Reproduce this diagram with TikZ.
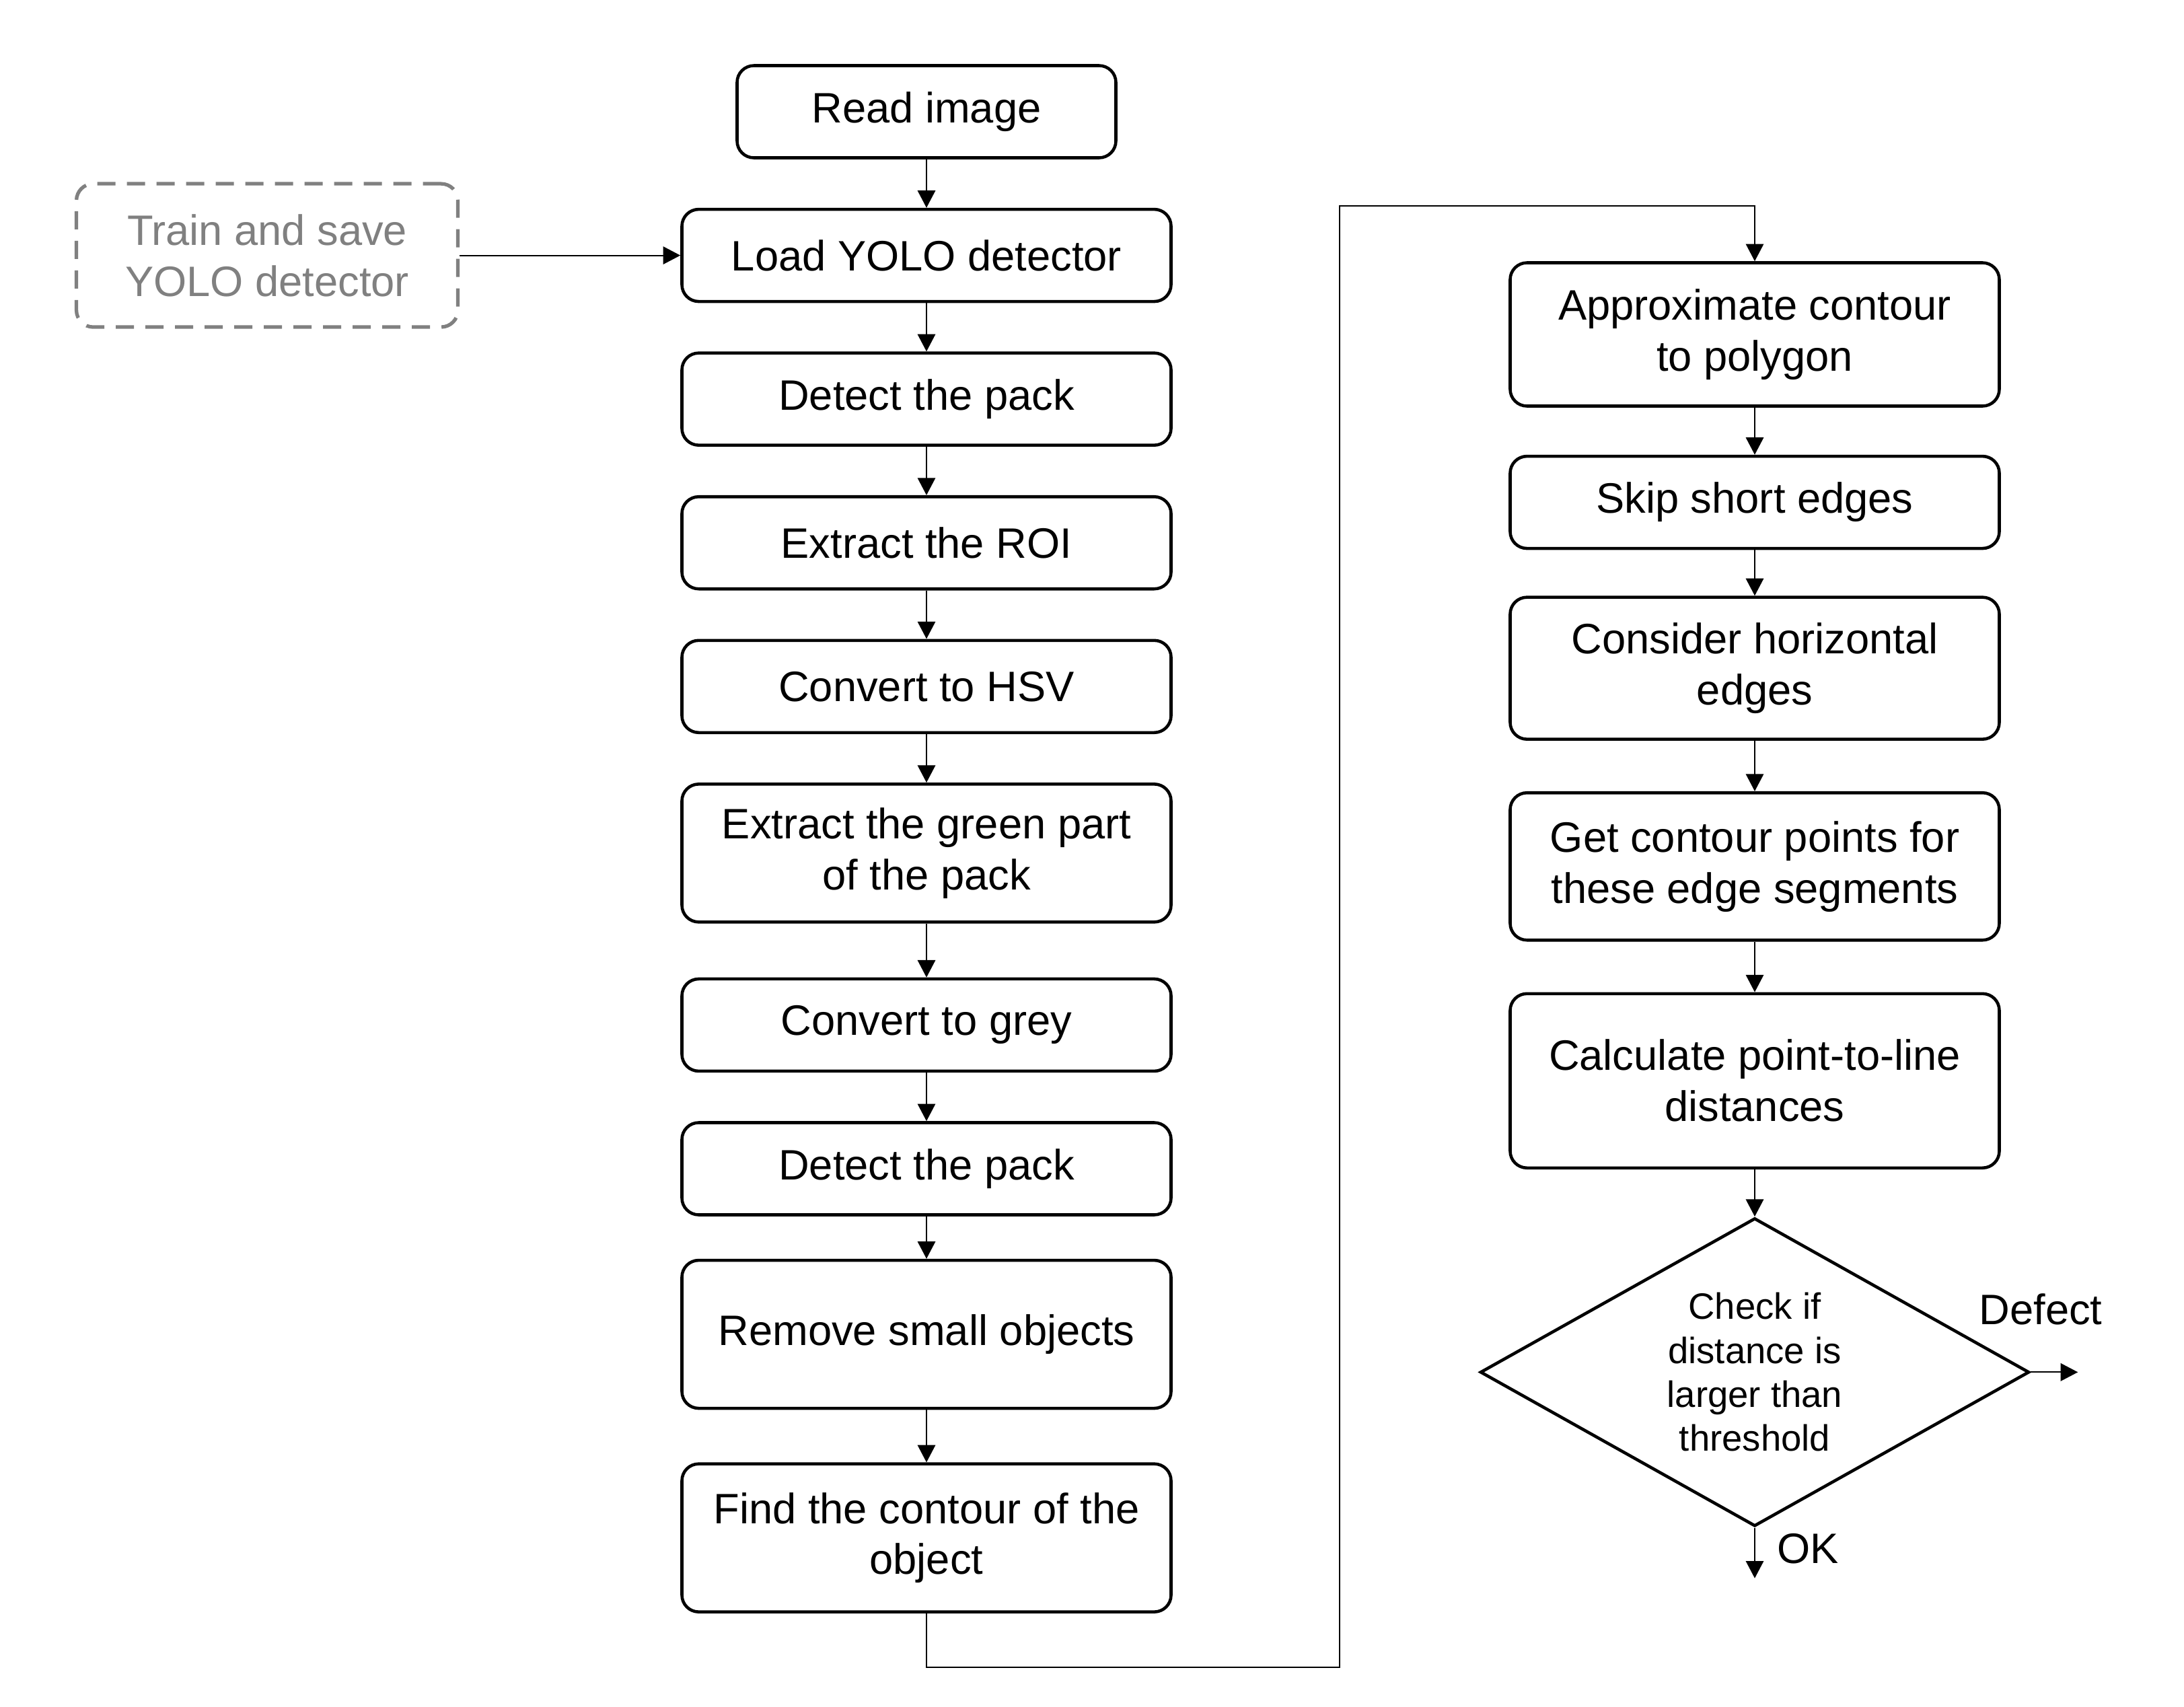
\documentclass[tikz,border=0pt]{standalone}
\usepackage{fontspec}
\setmainfont{Liberation Sans}
\usetikzlibrary{positioning,shapes.geometric,arrows.meta}
\definecolor{greyline}{RGB}{128,128,128}
\begin{document}
\begin{tikzpicture}
[node distance=0.72cm, font=\fontsize{18pt}{21.6pt}\selectfont, >={Triangle[length=7.3pt,width=7.5pt]}]
\tikzstyle{stepbox}=[rectangle, draw, line width=1.3pt, rounded corners=0.25cm, align=center, minimum width=7.27cm, minimum height=1.37cm, inner sep=2pt]
\tikzstyle{trainbox}=[stepbox, draw=greyline, text=greyline, line width=1.5pt, dash pattern=on 0.27cm off 0.17cm, minimum width=5.67cm, minimum height=2.13cm]
\tikzstyle{decision}=[diamond, draw, line width=1.3pt, align=center, inner sep=0pt, minimum width=8.16cm, minimum height=4.58cm, shape aspect=1.78, font=\fontsize{15.5pt}{18.6pt}\selectfont]
\tikzstyle{link}=[->, line width=0.6pt]
\fill[white] (0,0) rectangle (32.46,-25.36);
\useasboundingbox (0,0) rectangle (32.46,-25.36);

% left column
\node[stepbox]	(A1)	at (13.77,-1.66) [minimum width=5.63cm]	{Read image};
\node[stepbox]	(A2)	[below=of A1]		{Load YOLO detector};
\node[stepbox]	(A3)	[below=of A2]		{Detect the pack};
\node[stepbox]	(A4)	[below=of A3]		{Extract the ROI};
\node[stepbox]	(A5)	[below=of A4]		{Convert to HSV};
\node[stepbox]	(A6)	[below=of A5, minimum height=2.05cm]	{Extract the green part\\of the pack};
\node[stepbox]	(A7)	[below=0.8cm of A6]	{Convert to grey};
\node[stepbox]	(A8)	[below=of A7]		{Detect the pack};
\node[stepbox]	(A9)	[below=0.63cm of A8, minimum height=2.2cm]	{Remove small objects};
\node[stepbox]	(A10)	[below=0.78cm of A9, minimum height=2.2cm]	{Find the contour of the\\object};

\node[trainbox]	(Tr)	[left=3.28cm of A2]	{Train and save\\YOLO detector};

% right column
\node[stepbox]	(B1)	at (26.08,-4.97) [minimum height=2.13cm]	{Approximate contour\\to polygon};
\node[stepbox]	(B2)	[below=0.7cm of B1]	{Skip short edges};
\node[stepbox]	(B3)	[below=0.68cm of B2, minimum height=2.11cm]	{Consider horizontal\\edges};
\node[stepbox]	(B4)	[below=0.75cm of B3, minimum height=2.19cm]	{Get contour points for\\these edge segments};
\node[stepbox]	(B5)	[below=0.75cm of B4, minimum height=2.59cm]	{Calculate point-to-line\\distances};
\node[decision]	(Dec)	[below=0.7cm of B5]	{Check if\\distance is\\larger than\\threshold};

\coordinate[right=0.7cm of Dec.east]	(Out);
\coordinate[below=0.75cm of Dec.south]	(End);
\coordinate	(J1)	at (19.91,-24.78);
\coordinate	(J2)	at (19.91,-3.06);

\node	(DefLbl)	at (30.33,-19.46)	{Defect};
\node	(OKLbl)	at (26.87,-23.02)	{OK};

\foreach \a/\b in {A1/A2, A2/A3, A3/A4, A4/A5, A5/A6, A6/A7, A7/A8, A8/A9, A9/A10, B1/B2, B2/B3, B3/B4, B4/B5, B5/Dec}
	\draw [link] (\a.south) -- (\b.north);

\draw [link] (Tr.east) -- (A2.west);
\draw [link] (A10.south) |- (J1) -- (J2) -| (B1.north);
\draw [link] (Dec.east) -- (Out);
\draw [link] (Dec.south) -- (End);
\end{tikzpicture}
\end{document}
